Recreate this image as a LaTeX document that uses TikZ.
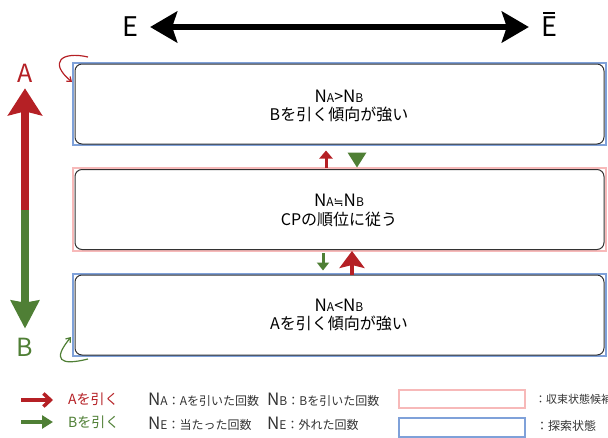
\documentclass[tikz,border=0pt]{standalone}
\usepackage{fontspec}
\setmainfont{Noto Sans CJK JP}
\newfontfamily\djv{DejaVu Sans}
\usetikzlibrary{arrows.meta}
\definecolor{cred}{HTML}{B52025}
\definecolor{cgreen}{HTML}{4F7F35}
\definecolor{cpink}{HTML}{F7B9B9}
\definecolor{cblue}{HTML}{7FA1D9}
\definecolor{cdark}{HTML}{333333}
\newcommand\fsz[1]{\fontsize{#1}{#1}\selectfont}
\newcommand\NN[3]{{\fsz{#1}N}{\fsz{#2}#3}}
\begin{document}
\begin{tikzpicture}[x=1pt,y=-1pt,
  statebox/.style={draw=cdark,line width=1,rounded corners=7,minimum width=529,minimum height=80,inner sep=0},
  blueframe/.style={draw=cblue,line width=2.5},
  pinkframe/.style={draw=cpink,line width=2.5},
  boxtext/.style={font=\fsz{16},text=black,inner sep=0},
  legtext/.style={font=\fsz{12},anchor=west,inner sep=0,text=cdark},
  bigtext/.style={font=\fsz{27},inner sep=0}]
\useasboundingbox (0,0) rectangle (608,437);
% top E arrow
\node[bigtext] (e) at (130,27) {E};
\node[bigtext] (ebar) at (549,27) {E};
\draw[line width=1.5] ([shift={(-6,-4)}]ebar.north) -- ([shift={(6,-4)}]ebar.north);
\coordinate (eL) at ([xshift=12]e.east);
\coordinate (eR) at ([xshift=-12]ebar.west);
\draw[line width=6,{Stealth[width=31pt,length=27pt,inset=5pt]}-{Stealth[width=31pt,length=27pt,inset=5pt]}] (eL) -- (eR);
% frames
\draw[blueframe] (73,63) rectangle (606,145);
\draw[pinkframe] (73,168) rectangle (606,251);
\draw[blueframe] (73,274) rectangle (606,356);
\node[statebox] (top) at (339.5,104) {};
\node[statebox] (mid) at (339.5,209.5) {};
\node[statebox] (bot) at (339.5,315) {};
% texts
\node[boxtext] (t1) at (339,96) {\NN{17}{12}A>\NN{17}{12}B};
\node[boxtext] (t2) at (339,114) {Bを引く傾向が強い};
\node[boxtext] (m1) at (339,200) {\NN{17}{12}A{\djv\fsz{12}≒}\NN{17}{12}B};
\node[boxtext] (m2) at (339,219) {CPの順位に従う};
\node[boxtext] (b1) at (339,305) {\NN{17}{12}A<\NN{17}{12}B};
\node[boxtext] (b2) at (339,323) {Aを引く傾向が強い};
% small arrows between boxes
\draw[cred,line width=3,-{Triangle[width=13pt,length=8pt]}] ([shift={(-13.5,-1)}]mid.north) -- ([shift={(-13.5,6)}]top.south);
\fill[cgreen] ([shift={(8,8)}]top.south) -- ([shift={(27,8)}]top.south) -- ([shift={(17.5,23)}]top.south) -- cycle;
\draw[cgreen,line width=3,-{Triangle[width=12pt,length=8pt]}] ([shift={(-16.5,3)}]mid.south) -- ([shift={(-16.5,-4)}]bot.north);
\draw[cred,line width=4,-{Stealth[width=25pt,length=17pt,inset=3pt]}] ([shift={(12.5,0)}]bot.north) -- ([shift={(12.5,1)}]mid.south);
% left big arrows
\node[bigtext,text=cred,font=\fsz{25}] (A) at (25,73) {A};
\node[bigtext,text=cgreen,font=\fsz{25}] (B) at (25,347) {B};
\coordinate (split) at (25,210);
\draw[cred,line width=8,-{Stealth[width=34pt,length=27pt,inset=4pt]}] (split) -- ([shift={(0,6)}]A.south);
\draw[cgreen,line width=8,-{Stealth[width=28pt,length=28pt,inset=2pt]}] (split) -- ([shift={(0,-9)}]B.north);
% curved arrows
\coordinate (rs) at (88,57);
\coordinate (re) at (72,82);
\draw[cred,line width=1.2,-{Straight Barb[width=6pt,length=4pt]}] (rs) .. controls (62,51) and (48,62) .. (re);
\coordinate (gs) at (88,359);
\coordinate (ge) at (71,337);
\draw[cgreen,line width=1.2,-{Straight Barb[width=6pt,length=4pt]}] (gs) .. controls (60,366) and (52,360) .. (ge);
% legend
\coordinate (la1) at (21,400);
\coordinate (la2) at (53,400);
\draw[cred,line width=4,-{Straight Barb[width=13pt,length=7pt,line width=3.5pt]}] (la1) -- (la2);
\coordinate (lb1) at (21,422);
\coordinate (lb2) at (53,422);
\draw[cgreen,line width=4,-{Triangle[width=13pt,length=11pt]}] (lb1) -- (lb2);
\node[legtext,text=cred,font=\fsz{14}] (lA) at (68,399) {Aを引く};
\node[legtext,text=cgreen,font=\fsz{14}] (lB) at (68,422) {Bを引く};
\node[legtext] (na) at (148,400) {\NN{17}{12}A：Aを引いた回数};
\node[legtext] (nb) at (267,400) {\NN{17}{12}B：Bを引いた回数};
\node[legtext] (ne1) at (148,424) {\NN{17}{12}E：当たった回数};
\node[legtext] (ne2) at (267,424) {\NN{17}{12}E：外れた回数};
\draw[pinkframe,line width=2.5] (399,390) rectangle (525,408);
\draw[blueframe,line width=2.5] (399,418) rectangle (525,437);
\node[legtext,font=\fsz{11}] (lp) at (535,399) {：収束状態候補};
\node[legtext] (lbl) at (536,426) {：探索状態};
\end{tikzpicture}
\end{document}
